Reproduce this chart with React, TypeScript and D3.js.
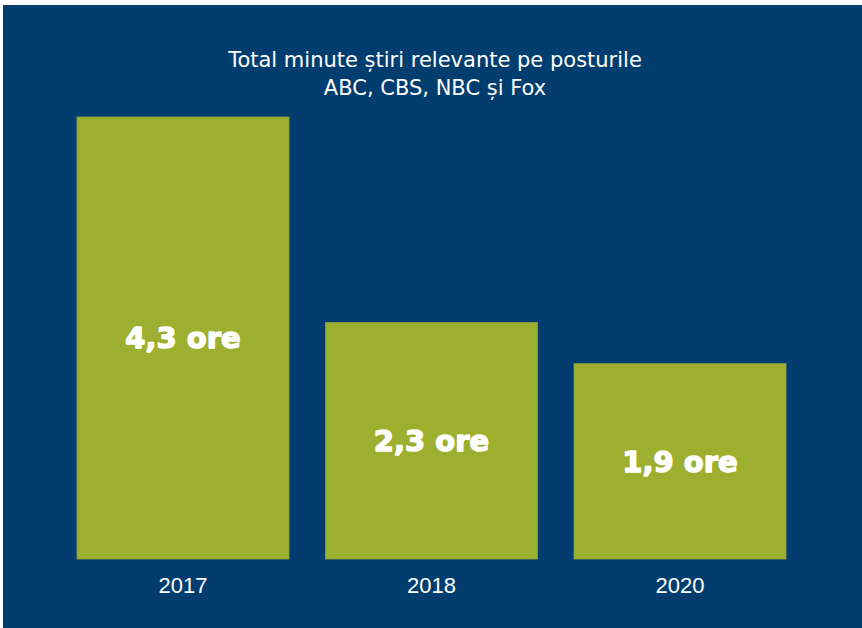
import React from "react";
import * as d3 from "d3";

const years = ["2017", "2018", "2020"];
const hours = [4.3, 2.3, 1.9];
const valueLabels = ["4,3 ore", "2,3 ore", "1,9 ore"];
const titleLines = ["Total minute știri relevante pe posturile", "ABC, CBS, NBC și Fox"];

const W = 862;
const H = 628;
const BG = "#013e6f";
const BAR = "#9caf2f";

export default function App() {
  const x = d3.scaleBand<string>().domain(years).range([77, 786]).paddingInner(0.147);
  const y = d3.scaleLinear().domain([0, 4.3]).range([559, 117]);
  return (
    <>
      <style>{`body{margin:0}`}</style>
      <svg width={W} height={H} style={{ display: "block" }}>
        <rect x={0} y={0} width={W} height={H} fill="#ffffff" />
        <rect x={3} y={5} width={W - 3} height={H - 5} fill={BG} />
        <g fontFamily="'DejaVu Sans', sans-serif" fontSize={21} fill="#ffffff" textAnchor="middle">
          {titleLines.map((t, i) => (
            <text key={i} x={435} y={67 + i * 28}>{t}</text>
          ))}
        </g>
        {years.map((yr, i) => {
          const x0 = x(yr)!;
          const bw = x.bandwidth();
          const top = y(hours[i]);
          const bottom = y(0);
          return (
            <g key={yr}>
              <rect x={x0} y={top} width={bw} height={bottom - top} fill={BAR} stroke="#8fa33a" strokeWidth={0.8} />
              <text
                x={x0 + bw / 2}
                y={(top + bottom) / 2}
                dy="0.36em"
                textAnchor="middle"
                fontFamily="'DejaVu Sans', sans-serif"
                fontWeight={900}
                fontSize={29}
                fill="#ffffff"
                stroke="#ffffff"
                strokeWidth={1.4}
                strokeLinejoin="round"
              >
                {valueLabels[i]}
              </text>
              <text
                x={x0 + bw / 2}
                y={593}
                textAnchor="middle"
                fontFamily="'Liberation Sans', Arial, sans-serif"
                fontSize={22}
                fill="#ffffff"
              >
                {yr}
              </text>
            </g>
          );
        })}
      </svg>
    </>
  );
}
